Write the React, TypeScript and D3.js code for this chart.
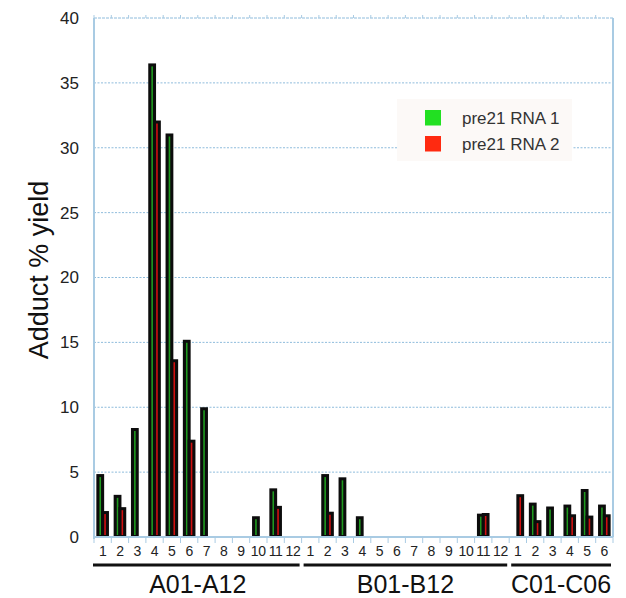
import React from "react";
import * as d3 from "d3";

const wells = [
  "A01","A02","A03","A04","A05","A06","A07","A08","A09","A10","A11","A12",
  "B01","B02","B03","B04","B05","B06","B07","B08","B09","B10","B11","B12",
  "C01","C02","C03","C04","C05","C06",
];
const tickLabels = [
  "1","2","3","4","5","6","7","8","9","10","11","12",
  "1","2","3","4","5","6","7","8","9","10","11","12",
  "1","2","3","4","5","6",
];
const rna1 = [4.85,3.25,8.4,36.5,31.1,15.2,10.0,0,0,1.6,3.75,0, 0,4.85,4.6,1.6,0,0,0,0,0,0,1.8,0, 0,2.65,2.35,2.5,3.7,2.5];
const rna2 = [2.0,2.3,0,32.1,13.7,7.5,0,0,0,0,2.4,0, 0,1.95,0,0,0,0,0,0,0,0,1.85,0, 3.3,1.3,0,1.75,1.65,1.75];
const groups = [
  { name: "A01-A12", from: "A01", to: "A12" },
  { name: "B01-B12", from: "B01", to: "B12" },
  { name: "C01-C06", from: "C01", to: "C06" },
];
const yTicks = [0,5,10,15,20,25,30,35,40];
const seriesNames = ["pre21 RNA 1", "pre21 RNA 2"];

const W = 626, H = 598;
const left = 94, right = 613, top = 18, bottom = 537;
const FONT = "Liberation Sans, Arial, sans-serif";

export default function App() {
  const x = d3.scaleBand<string>().domain(wells).range([left, right]).padding(0);
  const y = d3.scaleLinear().domain([0, 40]).range([bottom, top]);
  const bw = x.bandwidth();
  const axisColor = "#a9cbe3";
  const series = [
    { vals: rna1, off: -2.4, fill: "#1f9a1f" },
    { vals: rna2, off: 2.4, fill: "#d01010" },
  ];
  return (
    <svg width={W} height={H} style={{ position: "absolute", left: 0, top: 0, background: "#fff" }}>
      <rect x={0} y={0} width={W} height={H} fill="#fff" />
      {yTicks.filter(t => t > 0 && t < 40).map(t => (
        <line key={t} x1={left} x2={right} y1={y(t)} y2={y(t)} stroke="#8fbcdc" strokeWidth={1} strokeDasharray="2,1.5" />
      ))}
      <line x1={left} x2={right} y1={y(40)} y2={y(40)} stroke="#8fbcdc" strokeWidth={1} strokeDasharray="3,1" />
      {wells.map((w, i) => (
        <line key={"tt" + i} x1={x(w)!} x2={x(w)!} y1={top} y2={top - 3} stroke={axisColor} strokeWidth={1} />
      ))}
      <line x1={left} x2={left} y1={top} y2={bottom + 2} stroke={axisColor} strokeWidth={2} />
      <line x1={right} x2={right} y1={top} y2={bottom} stroke={axisColor} strokeWidth={2} />
      {series.map((s, si) =>
        wells.map((w, i) => {
          const v = s.vals[i];
          if (!v) return null;
          const cx = x(w)! + bw / 2 + s.off;
          const bwid = 7.8;
          return (
            <g key={si + "-" + i}>
              <rect x={cx - bwid / 2} y={y(v)} width={bwid} height={y(0) - y(v)} fill="#0c0c0c" />
              <rect x={cx - 0.8} y={y(v) + 3} width={1.6} height={Math.max(0, y(0) - y(v) - 5)} fill={s.fill} />
            </g>
          );
        })
      )}
      <line x1={left} x2={right} y1={bottom} y2={bottom} stroke={axisColor} strokeWidth={2} />
      {wells.map((w, i) => (
        <line key={"bt" + i} x1={x(w)!} x2={x(w)!} y1={bottom} y2={bottom + 6} stroke={axisColor} strokeWidth={1} />
      ))}
      <line x1={right} x2={right} y1={bottom} y2={bottom + 6} stroke={axisColor} strokeWidth={1} />
      {yTicks.map(t => (
        <text key={"yl" + t} x={79} y={y(t)} dy="0.35em" textAnchor="end" fontFamily={FONT} fontSize={17} fill="#222">{t}</text>
      ))}
      {wells.map((w, i) => (
        <text key={"xl" + i} x={x(w)! + bw / 2} y={556} textAnchor="middle" fontFamily={FONT} fontSize={14} fill="#222" letterSpacing={-0.3}>{tickLabels[i]}</text>
      ))}
      {groups.map((g, gi) => {
        const x0 = x(g.from)! + (gi === 0 ? -1 : 2);
        const x1 = x(g.to)! + bw - 2;
        return (
          <g key={g.name}>
            <line x1={x0} x2={x1} y1={565} y2={565} stroke="#111" strokeWidth={3} />
            <text x={(x(g.from)! + x(g.to)! + bw) / 2} y={593} textAnchor="middle" fontFamily={FONT} fontSize={25} fill="#111">{g.name}</text>
          </g>
        );
      })}
      <text transform={`translate(48,270) rotate(-90)`} textAnchor="middle" fontFamily={FONT} fontSize={27} fill="#111">Adduct % yield</text>
      <rect x={397} y={99} width={175} height={62} fill="#fcf9f7" />
      {seriesNames.map((n, i) => (
        <g key={n}>
          <rect x={425} y={110 + i * 26} width={16} height={15.5} fill={i === 0 ? "#22e022" : "#ff2a10"} />
          <text x={462} y={118 + i * 26} dy="0.35em" fontFamily={FONT} fontSize={17} fill="#333">{n}</text>
        </g>
      ))}
    </svg>
  );
}
